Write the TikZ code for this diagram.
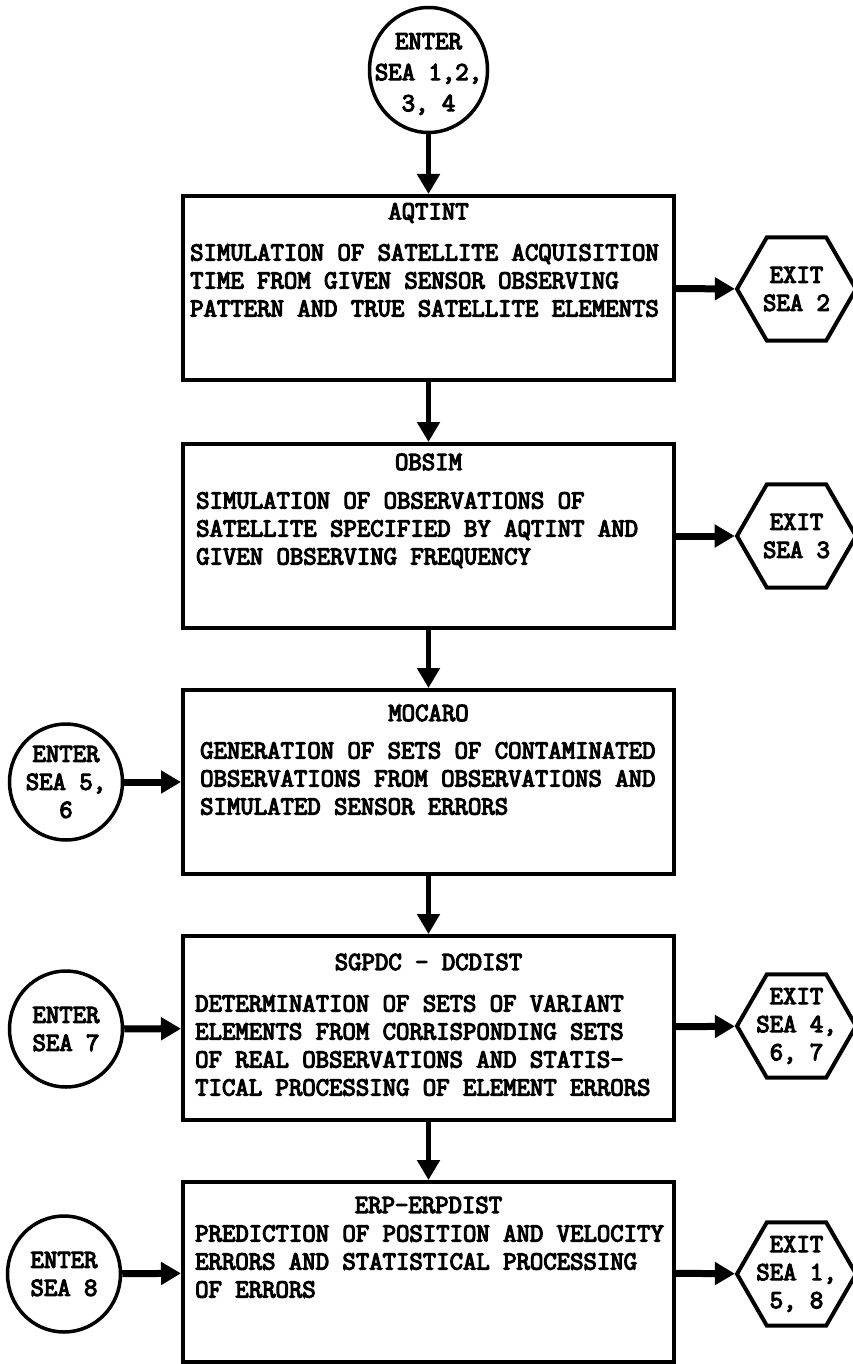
\documentclass[tikz,border=0pt]{standalone}
\usepackage{fontspec}
\setmonofont{Latin Modern Mono}[FakeBold=4.5]
\usetikzlibrary{arrows.meta,shapes.geometric}
\tikzset{
    every node/.style={inner sep=0pt, align=center, font=\ttfamily\fontsize{26}{28}\selectfont}
}
\tikzset{
    procbox/.style={draw, line width=4pt, minimum width=491pt, minimum height=184pt},
    enter/.style={draw, ellipse, line width=3.5pt, minimum width=113pt, minimum height=116pt},
    exit/.style={draw, regular polygon, regular polygon sides=6, line width=4pt, minimum size=119pt},
    body/.style={anchor=north west, align=left},
    flow/.style={line width=5pt, -{Triangle[length=20pt, width=22pt]}},
    flowh/.style={flow, line width=7pt}
}

\begin{document}
\begin{tikzpicture}[x=1pt, y=-1pt]
    \useasboundingbox (0, 0) rectangle (852, 1364);

    \node (en1) [enter, minimum width=118pt, minimum height=125pt, label={[yshift=-4pt, font=\ttfamily\fontsize{26}{31}\selectfont]center:{ENTER\\SEA 1,2,\\3, 4}}] at (428.5, 70) {};
    \node (en5) [enter, label={center:{ENTER\\SEA 5,\\6}}] at (66, 782) {};
    \node (en7) [enter, label={center:{ENTER\\SEA 7}}] at (66, 1029) {};
    \node (en8) [enter, label={center:{ENTER\\SEA 8}}] at (64, 1274) {};

    \node (aq) [procbox] at (428.5, 288) {};
    \node (ob) [procbox] at (428.5, 536) {};
    \node (mo) [procbox] at (428.5, 782) {};
    \node (sg) [procbox] at (428.5, 1028) {};
    \node (erp) [procbox, minimum height=180pt] at (428.5, 1272) {};

    \node (aqt) at (428.5, 213) {AQTINT};
    \node (obt) at (428.5, 462) {OBSIM};
    \node (mot) at (428.5, 713) {MOCARO};
    \node (sgt) at (428.5, 962) {SGPDC - DCDIST};
    \node (erpt) at (428.5, 1205) {ERP-ERPDIST};

    \node (aqb) [body] at (190, 244) {SIMULATION OF SATELLITE ACQUISITION\\TIME FROM GIVEN SENSOR OBSERVING\\PATTERN AND TRUE SATELLITE ELEMENTS};
    \node (obb) [body] at (196, 492) {SIMULATION OF OBSERVATIONS OF\\SATELLITE SPECIFIED BY AQTINT AND\\GIVEN OBSERVING FREQUENCY};
    \node (mob) [body] at (200, 742) {GENERATION OF SETS OF CONTAMINATED\\OBSERVATIONS FROM OBSERVATIONS AND\\SIMULATED SENSOR ERRORS};
    \node (sgb) [body] at (195, 995) {DETERMINATION OF SETS OF VARIANT\\ELEMENTS FROM CORRISPONDING SETS\\OF REAL OBSERVATIONS AND STATIS-\\TICAL PROCESSING OF ELEMENT ERRORS};
    \node (erpb) [body] at (195, 1225) {PREDICTION OF POSITION AND VELOCITY\\ERRORS AND STATISTICAL PROCESSING\\OF ERRORS};

    \node (ex2) [exit, label={center:{EXIT\\SEA 2}}] at (796.5, 289) {};
    \node (ex3) [exit, label={center:{EXIT\\SEA 3}}] at (796.5, 536) {};
    \node (ex4) [exit, label={center:{EXIT\\SEA 4,\\6, 7}}] at (796.5, 1026) {};
    \node (ex1) [exit, label={center:{EXIT\\SEA 1,\\5, 8}}] at (796.5, 1274) {};

    \draw (en1) edge[flow] (aq);
    \draw (aq) edge[flow] (ob);
    \draw (ob) edge[flow] (mo);
    \draw (mo) edge[flow] (sg);
    \draw (sg) edge[flow] (erp);
    \draw (aq) edge[flowh] (ex2);
    \draw (ob) edge[flowh] (ex3);
    \draw (sg) edge[flowh] (ex4);
    \draw (erp) edge[flowh] (ex1);
    \draw (en5) edge[flowh] (mo);
    \draw (en7) edge[flowh] (sg);
    \draw (en8) edge[flowh] (erp);
\end{tikzpicture}
\end{document}
